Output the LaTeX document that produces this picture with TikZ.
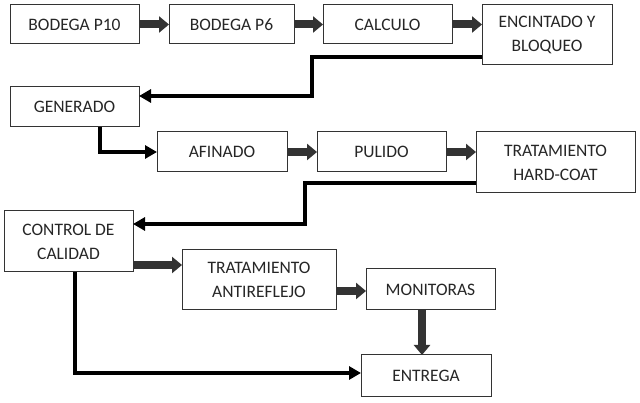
\documentclass[tikz,border=0pt]{standalone}
\usepackage{fontspec}
\setmainfont{Carlito}
\usetikzlibrary{arrows.meta}
\begin{document}
\begin{tikzpicture}[x=1pt,y=-1pt,
  box/.style={draw=black!80, line width=1pt, fill=white, inner sep=0pt, outer sep=0pt,
    align=center, text=black!85, font=\fontsize{17.5}{24}\selectfont},
  blk/.style={draw=black!80, line width=8pt, -{Triangle[length=10pt,width=16pt]}},
  elb/.style={draw=black, line width=4pt, -{Triangle[length=12pt,width=13pt]}}]
\useasboundingbox[fill=white] (0,0) rectangle (640,403);

\node[box, minimum width=129pt, minimum height=39pt] (p10) at (74.5,24.5) {BODEGA P10};
\node[box, minimum width=125pt, minimum height=39pt] (p6) at (231.5,24.5) {BODEGA P6};
\node[box, minimum width=129pt, minimum height=39pt] (calc) at (387.5,24.5) {CALCULO};
\node[box, minimum width=130pt, minimum height=60pt] (enc) at (547,35) {ENCINTADO Y\\BLOQUEO};
\node[box, minimum width=129pt, minimum height=40pt] (gen) at (74.5,107) {GENERADO};
\node[box, minimum width=130pt, minimum height=40pt] (afi) at (222,152) {AFINADO};
\node[box, minimum width=129pt, minimum height=40pt] (pul) at (381.5,152) {PULIDO};
\node[box, minimum width=159pt, minimum height=61pt] (hc) at (555.5,162.5) {TRATAMIENTO\\HARD-COAT};
\node[box, minimum width=129pt, minimum height=61pt] (cc) at (68.5,241.5) {CONTROL DE\\CALIDAD};
\node[box, minimum width=154pt, minimum height=60pt] (ar) at (259,280) {TRATAMIENTO\\ANTIREFLEJO};
\node[box, minimum width=129pt, minimum height=41pt] (mon) at (430.5,289.5) {MONITORAS};
\node[box, minimum width=130pt, minimum height=41pt] (ent) at (426,375.5) {ENTREGA};

% block arrows
\draw[blk] (p10.east) -- (p6.west);
\draw[blk] (p6.east) -- (calc.west);
\draw[blk] (calc.east) -- (calc.east -| enc.west);
\draw[blk] (afi.east) -- (pul.west);
\draw[blk] (pul.east) -- (pul.east -| hc.west);
\draw[blk] ([yshift=-23.5pt]cc.east) -- ([yshift=-23.5pt]cc.east -| ar.west);
\draw[blk] ([yshift=-11pt]ar.east) -- ([yshift=-11pt]ar.east -| mon.west);
\draw[blk] ([xshift=-8.5pt]mon.south) -- ([xshift=-8.5pt]mon.south |- ent.north);

% elbow connectors
\coordinate (k1) at (311.5,57);
\coordinate (k2) at (311.5,96);
\draw[elb] ([yshift=-22pt]enc.west) -- (k1) -- (k2) -- (k2 -| gen.east);
\draw[elb] ([xshift=25.5pt]gen.south) |- (afi.west);
\coordinate (k3) at (305,183);
\coordinate (k4) at (305,224);
\draw[elb] ([yshift=-20.5pt]hc.west) -- (k3) -- (k4) -- (k4 -| cc.east);
\draw[elb] ([xshift=6.5pt]cc.south) |- ([yshift=2.5pt]ent.west);
\end{tikzpicture}
\end{document}
